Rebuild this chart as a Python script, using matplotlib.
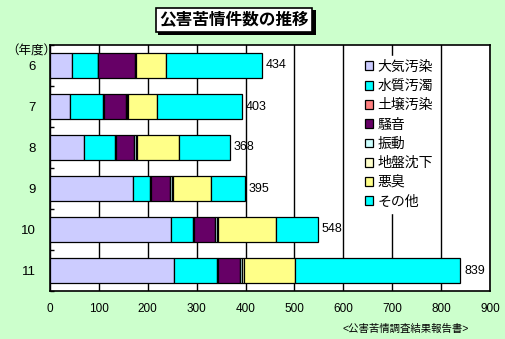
import matplotlib.pyplot as plt
import numpy as np

plt.rcParams['font.family'] = ['Liberation Sans', 'Noto Sans CJK JP', 'DejaVu Sans']

# 年度と各項目の件数
years = ['6', '7', '8', '9', '10', '11']
categories = ['大気汚染', '水質汚濁', '土壌汚染', '騒音', '振動', '地盤沈下', '悪臭', 'その他']
taiki = [46, 40, 69, 170, 247, 253]
suishitsu = [52, 68, 64, 35, 45, 88]
dojo = [1, 2, 2, 2, 2, 3]
souon = [74, 45, 37, 38, 43, 44]
shindou = [2, 3, 4, 4, 4, 5]
jiban = [1, 1, 2, 2, 2, 3]
akushu = [62, 60, 85, 79, 120, 106]
sonota = [196, 173, 105, 68, 85, 337]
totals = [434, 403, 368, 395, 548, 839]

colors = ['#CCCCFF', '#00FFFF', '#FF8080', '#660066', '#CCFFFF', '#FFFFCC', '#FFFF88', '#00FFFF']
series = [taiki, suishitsu, dojo, souon, shindou, jiban, akushu, sonota]

fig = plt.figure(figsize=(5.06, 3.39), dpi=100)
fig.patch.set_facecolor('#CCFFCC')
ax = fig.add_axes([50 / 506, 1 - 291 / 339, 440 / 506, 246 / 339])

y = np.arange(len(years))
left = np.zeros(len(years))
for name, vals, c in zip(categories, series, colors):
    ax.barh(y, vals, left=left, height=0.63, color=c, edgecolor='black',
            linewidth=0.9, label=name, zorder=3)
    left += np.array(vals)

for yi, end, t in zip(y, left, totals):
    ax.text(end + 8, yi, str(t), va='center', ha='left', fontsize=9, zorder=4)

ax.set_xlim(0, 900)
ax.set_ylim(len(years) - 0.5, -0.5)
ax.set_xticks(np.arange(0, 1000, 100))
ax.set_yticks(y)
ax.set_yticklabels(years)
ax.set_yticks(np.arange(-0.5, len(years), 1), minor=True)
ax.tick_params(axis='y', which='major', length=0, labelsize=9.5, pad=10)
ax.tick_params(axis='y', which='minor', direction='in', length=3, width=1)
ax.tick_params(axis='x', length=0, labelsize=8.5, pad=9)
ax.grid(axis='x', color='black', linewidth=1, zorder=0)
for s in ax.spines.values():
    s.set_linewidth(1.2)

leg = ax.legend(loc='upper left', bbox_to_anchor=(0.69, 0.985), frameon=True,
                fontsize=10, handlelength=0.6, handleheight=0.6,
                handletextpad=0.3, labelspacing=0.38, borderpad=0.3)
leg.get_frame().set_facecolor('white')
leg.get_frame().set_edgecolor('white')
leg.get_frame().set_alpha(1)
leg.set_zorder(5)

fig.text(6 / 506, 1 - 52 / 339, '（年度）', fontsize=9, va='center', ha='left')
fig.text(406 / 506, 1 - 329 / 339, '<公害苦情調査結果報告書>', fontsize=7.5,
         va='center', ha='center')

# タイトル（影付きの枠）
fig.text(234 / 506, 1 - 20 / 339, '公害苦情件数の推移', fontsize=12, fontweight='bold',
         va='center', ha='center', family=['Noto Sans CJK JP'],
         bbox=dict(boxstyle='square,pad=0.2', facecolor='white', edgecolor='black',
                   linewidth=1.2))
fig.patches.append(plt.Rectangle((158 / 506, 1 - 35 / 339), 158 / 506, 25 / 339,
                                 transform=fig.transFigure, facecolor='black',
                                 edgecolor='none', zorder=0))

fig.savefig('out.png', dpi=100, facecolor=fig.get_facecolor())
